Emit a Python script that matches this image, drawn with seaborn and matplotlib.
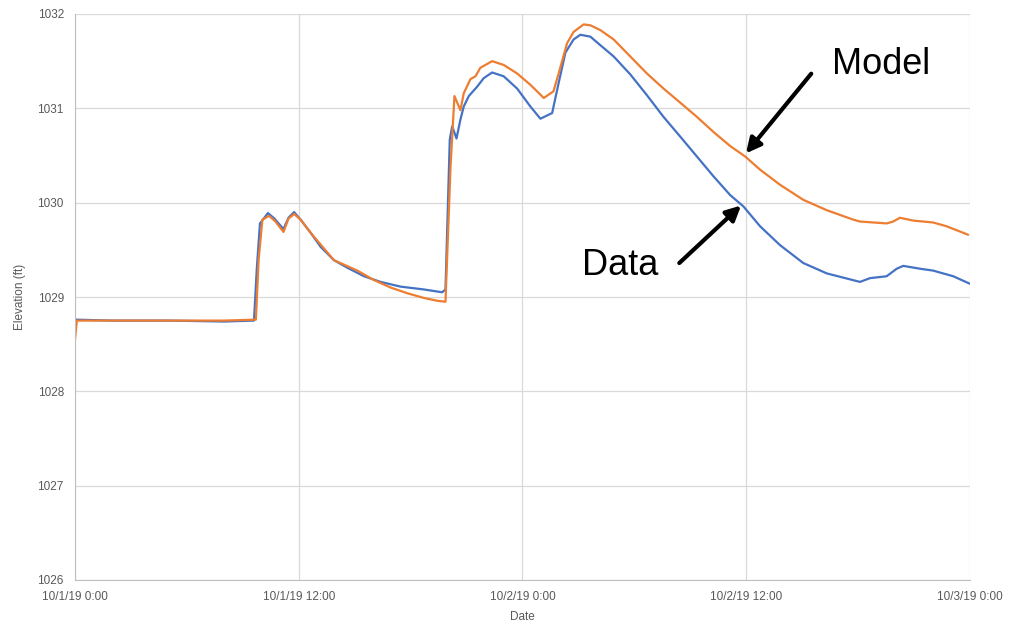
import pandas as pd
import matplotlib.pyplot as plt
import seaborn as sns

# hours since 10/1/19 0:00
data_hours = [0, 2, 5, 8, 9.6, 9.75, 9.92, 10.35, 10.7, 11.18, 11.45, 11.75, 12.1, 12.64, 13.18,
              13.89, 14.61, 15.5, 16.39, 17.46, 18.71, 19.69, 19.87, 20.1, 20.23, 20.46, 20.67,
              20.85, 21.12, 21.57, 21.92, 22.37, 22.99, 23.71, 24.42, 24.96, 25.59, 25.94, 26.3,
              26.74, 27.1, 27.64, 28.17, 28.89, 29.78, 30.67, 31.56, 32.46, 33.35, 34.24, 35.14,
              35.85, 36.74, 37.81, 39.06, 40.32, 42.1, 42.64, 43.53, 44.07, 44.42, 45.31, 46.02,
              47.1, 48]
data_elev = [1028.76, 1028.75, 1028.75, 1028.74, 1028.75, 1029.3, 1029.78, 1029.89, 1029.83, 1029.72,
             1029.84, 1029.9, 1029.82, 1029.68, 1029.53, 1029.39, 1029.31, 1029.22, 1029.16, 1029.11,
             1029.08, 1029.05, 1029.08, 1030.67, 1030.81, 1030.68, 1030.88, 1031.02, 1031.13,
             1031.23, 1031.32, 1031.38, 1031.34, 1031.21, 1031.02, 1030.89, 1030.95, 1031.27,
             1031.59, 1031.73, 1031.78, 1031.76, 1031.67, 1031.55, 1031.36, 1031.14, 1030.91,
             1030.7, 1030.49, 1030.28, 1030.08, 1029.96, 1029.75, 1029.55, 1029.36, 1029.25,
             1029.16, 1029.2, 1029.22, 1029.3, 1029.33, 1029.3, 1029.28, 1029.22, 1029.14]

model_hours = [0, 0.1, 2, 5, 8, 9.7, 9.85, 10.05, 10.41, 10.75, 11.18, 11.45, 11.75, 12.1, 12.64,
               13.89, 15.14, 16.03, 16.93, 17.82, 18.71, 19.43, 19.87, 20.14, 20.35, 20.67, 20.85,
               21.21, 21.48, 21.74, 22.37, 22.99, 23.71, 24.42, 25.14, 25.66, 25.94, 26.39, 26.74,
               27.28, 27.64, 28.17, 28.89, 29.78, 30.67, 31.56, 32.46, 33.35, 34.24, 35.14, 35.94,
               36.74, 37.81, 39.06, 40.32, 41.74, 42.1, 43.53, 43.88, 44.24, 44.96, 46.02, 46.74,
               47.9]
model_elev = [1028.55, 1028.75, 1028.75, 1028.75, 1028.75, 1028.76, 1029.4, 1029.82, 1029.86, 1029.8,
              1029.69, 1029.83, 1029.88, 1029.82, 1029.68, 1029.39, 1029.28, 1029.18, 1029.1, 1029.04,
              1028.99, 1028.96, 1028.95, 1030.38, 1031.13, 1030.98, 1031.16, 1031.31, 1031.34,
              1031.43, 1031.5, 1031.46, 1031.37, 1031.25, 1031.11, 1031.18, 1031.37, 1031.69,
              1031.81, 1031.89, 1031.88, 1031.83, 1031.73, 1031.55, 1031.37, 1031.21, 1031.06,
              1030.91, 1030.75, 1030.6, 1030.49, 1030.35, 1030.19, 1030.03, 1029.92, 1029.82,
              1029.8, 1029.78, 1029.8, 1029.84, 1029.81, 1029.79, 1029.75, 1029.66]

tick_hours = [0, 12, 24, 36, 48]
tick_labels = ["10/1/19 0:00", "10/1/19 12:00", "10/2/19 0:00", "10/2/19 12:00", "10/3/19 0:00"]
y_ticks = [1026, 1027, 1028, 1029, 1030, 1031, 1032]

df = pd.concat([
    pd.DataFrame({"hour": data_hours, "elev": data_elev, "series": "Data"}),
    pd.DataFrame({"hour": model_hours, "elev": model_elev, "series": "Model"}),
])

sns.set_style("white")
plt.rcParams["font.family"] = ["Liberation Sans", "DejaVu Sans"]

fig = plt.figure(figsize=(10.3, 6.26), dpi=100)
ax = fig.add_axes([75 / 1030, 1 - 580 / 626, 895 / 1030, 566 / 626])

sns.lineplot(data=df, x="hour", y="elev", hue="series", estimator=None, sort=True,
             palette={"Data": "#4472C4", "Model": "#ED7D31"}, linewidth=1.6, legend=False, ax=ax)

ax.set_xlim(0, 48)
ax.set_ylim(1026, 1032)
ax.set_xticks(tick_hours)
ax.set_xticklabels(tick_labels)
ax.set_yticks(y_ticks)
ax.grid(True, color="#d9d9d9", linewidth=0.9)
ax.tick_params(axis="both", length=0, labelsize=8.5, colors="#595959", pad=8)
for side in ["top", "right"]:
    ax.spines[side].set_visible(False)
for side in ["left", "bottom"]:
    ax.spines[side].set_color("#bfbfbf")
ax.set_xlabel("Date", fontsize=8.5, color="#595959", labelpad=6)
ax.set_ylabel("Elevation (ft)", fontsize=8.5, color="#595959", labelpad=8)

ax.text(40.6, 1031.46, "Model", fontsize=26, color="black", va="center", ha="left")
ax.text(27.2, 1029.33, "Data", fontsize=26, color="black", va="center", ha="left")
ax.annotate("", xy=(35.89, 1030.5), xytext=(39.58, 1031.39),
            arrowprops=dict(arrowstyle="-|>", color="black", lw=3, mutation_scale=22))
ax.annotate("", xy=(35.83, 1029.99), xytext=(32.3, 1029.34),
            arrowprops=dict(arrowstyle="-|>", color="black", lw=3, mutation_scale=22))

fig.savefig("out.png", dpi=100)
